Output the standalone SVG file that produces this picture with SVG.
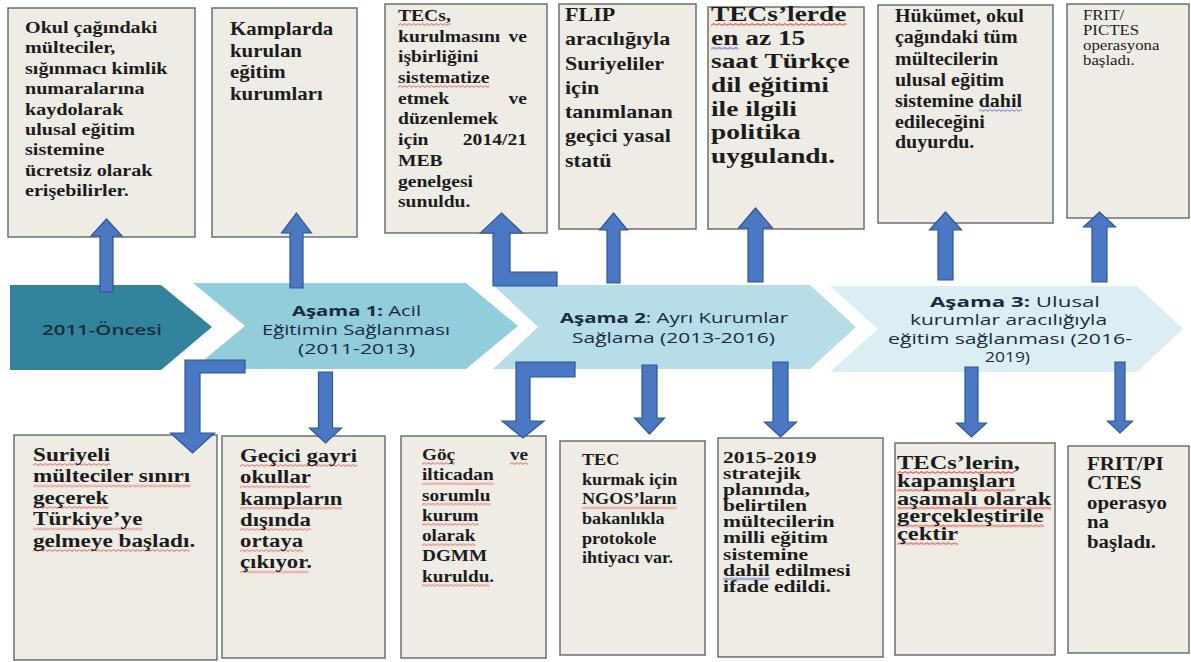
<svg xmlns="http://www.w3.org/2000/svg" width="1191" height="662" viewBox="0 0 1191 662">
<style>
.box rect.bx{fill:#eeece5;stroke:#666666;stroke-width:1.4}
.bt{font-family:"Liberation Serif","Times New Roman",serif;font-weight:bold;fill:#1c1c1c}
.nt{font-weight:normal}
.sq{fill:url(#wr)}
.bq{fill:url(#wb)}
.ct{font-family:"Open Sans","Liberation Sans",sans-serif;font-size:15px;fill:#1b2b3b}
.ct .b{font-weight:bold}
.arr{fill:#4a78c2;stroke:#2d5797;stroke-width:1.2;stroke-linejoin:miter}
</style>
<defs>
<pattern id="wr" width="4" height="3" patternUnits="userSpaceOnUse"><path d="M0,2.4 L2,0.6 L4,2.4" fill="none" stroke="#e03030" stroke-width="0.8" opacity="0.85"/></pattern>
<pattern id="wb" width="4" height="3" patternUnits="userSpaceOnUse"><path d="M0,2.4 L2,0.6 L4,2.4" fill="none" stroke="#3b4fd0" stroke-width="0.8" opacity="0.85"/></pattern>
</defs>
<rect width="1191" height="662" fill="#ffffff"/>

<!-- top boxes -->
<g id="box-t1" class="box">
<rect class="bx" x="8" y="8" width="187" height="229"/>
<g class="bt" font-size="17.5" transform="translate(25 0) scale(1.15 1)">
<text x="0" y="33">Okul çağındaki</text>
<text x="0" y="53.5">mülteciler,</text>
<text x="0" y="74">sığınmacı kimlik</text>
<text x="0" y="94.5">numaralarına</text>
<text x="0" y="115">kaydolarak</text>
<text x="0" y="135">ulusal eğitim</text>
<text x="0" y="155.5">sistemine</text>
<text x="0" y="176">ücretsiz olarak</text>
<text x="0" y="196.5">erişebilirler.</text>
</g>
</g>
<g id="box-t2" class="box">
<rect class="bx" x="212" y="8" width="145" height="229"/>
<g class="bt" font-size="18.5" transform="translate(230 0) scale(1.13 1)">
<text x="0" y="35">Kamplarda</text>
<text x="0" y="57">kurulan</text>
<text x="0" y="78.5">eğitim</text>
<text x="0" y="100">kurumları</text>
</g>
</g>
<g id="box-t3" class="box">
<rect class="bx" x="385" y="4" width="162" height="229"/>
<g class="bt" font-size="17.5" transform="translate(398 0) scale(1.12 1)">
<rect class="sq" transform="translate(0 23)" width="47" height="3"/>
<rect class="sq" transform="translate(0 85)" width="81.6" height="3"/>
<text x="0" y="21">TECs,</text>
<text x="0" y="41.7">kurulmasını</text><text x="115.2" y="41.7" text-anchor="end">ve</text>
<text x="0" y="62.4">işbirliğini</text>
<text x="0" y="83.1">sistematize</text>
<text x="0" y="103.8">etmek</text><text x="115.2" y="103.8" text-anchor="end">ve</text>
<text x="0" y="124.5">düzenlemek</text>
<text x="0" y="145.2">için</text><text x="115.2" y="145.2" text-anchor="end">2014/21</text>
<text x="0" y="165.9">MEB</text>
<text x="0" y="186.6">genelgesi</text>
<text x="0" y="207.3">sunuldu.</text>
</g>
</g>
<g id="box-t4" class="box">
<rect class="bx" x="559" y="4" width="137" height="225"/>
<g class="bt" font-size="19.5" transform="translate(565 0) scale(1.13 1)">
<text x="0" y="21">FLIP</text>
<text x="0" y="45.3">aracılığıyla</text>
<text x="0" y="69.6">Suriyeliler</text>
<text x="0" y="93.9">için</text>
<text x="0" y="118.2">tanımlanan</text>
<text x="0" y="142.5">geçici yasal</text>
<text x="0" y="166.8">statü</text>
</g>
</g>
<g id="box-t5" class="box">
<rect class="bx" x="708" y="7" width="156" height="222"/>
<g class="bt" font-size="20" transform="translate(711 0) scale(1.37 1)">
<rect class="sq" transform="translate(0 23)" width="98.9" height="3"/>
<rect class="bq" transform="translate(0 46.7)" width="20" height="3"/>
<text x="0" y="21">TECs’lerde</text>
<text x="0" y="44.7">en az 15</text>
<text x="0" y="68.4">saat Türkçe</text>
<text x="0" y="92">dil eğitimi</text>
<text x="0" y="115.8">ile ilgili</text>
<text x="0" y="139.5">politika</text>
<text x="0" y="163.2">uygulandı.</text>
</g>
</g>
<g id="box-t6" class="box">
<rect class="bx" x="878" y="5" width="175" height="218"/>
<g class="bt" font-size="18" transform="translate(895 0) scale(1.11 1)">
<rect class="bq" transform="translate(75.5 109)" width="39" height="3"/>
<text x="0" y="22">Hükümet, okul</text>
<text x="0" y="43">çağındaki tüm</text>
<text x="0" y="65">mültecilerin</text>
<text x="0" y="86.5">ulusal eğitim</text>
<text x="0" y="107">sistemine dahil</text>
<text x="0" y="128">edileceğini</text>
<text x="0" y="148.5">duyurdu.</text>
</g>
</g>
<g id="box-t7" class="box">
<rect class="bx" x="1067" y="4" width="122" height="214"/>
<g class="bt nt" font-size="14" transform="translate(1083 0) scale(1.2 1)">
<text x="0" y="20">FRIT/</text>
<text x="0" y="35">PICTES</text>
<text x="0" y="50">operasyona</text>
<text x="0" y="65">başladı.</text>
</g>
</g>

<!-- bottom boxes -->
<g id="box-b1" class="box">
<rect class="bx" x="14" y="435" width="203" height="225"/>
<g class="bt" font-size="19" transform="translate(33 0) scale(1.22 1)">
<rect class="sq" transform="translate(0 463)" width="63.3" height="3"/>
<rect class="sq" transform="translate(0 484.5)" width="129.2" height="3"/>
<rect class="sq" transform="translate(0 506)" width="62.2" height="3"/>
<rect class="sq" transform="translate(0 527.5)" width="89.7" height="3"/>
<rect class="sq" transform="translate(0 549)" width="128.3" height="3"/>
<text x="0" y="461">Suriyeli</text>
<text x="0" y="482.5">mülteciler sınırı</text>
<text x="0" y="504">geçerek</text>
<text x="0" y="525.5">Türkiye’ye</text>
<text x="0" y="547">gelmeye başladı.</text>
</g>
</g>
<g id="box-b2" class="box">
<rect class="bx" x="222" y="436" width="163" height="222"/>
<g class="bt" font-size="19" transform="translate(240 0) scale(1.2 1)">
<rect class="sq" transform="translate(0 464)" width="97.6" height="3"/>
<rect class="sq" transform="translate(0 485.3)" width="59.1" height="3"/>
<rect class="sq" transform="translate(0 506.6)" width="85.5" height="3"/>
<rect class="sq" transform="translate(0 527.9)" width="59.1" height="3"/>
<rect class="sq" transform="translate(0 549.2)" width="52.8" height="3"/>
<rect class="sq" transform="translate(0 570.5)" width="57" height="3"/>
<text x="0" y="462">Geçici gayri</text>
<text x="0" y="483.3">okullar</text>
<text x="0" y="504.6">kampların</text>
<text x="0" y="525.9">dışında</text>
<text x="0" y="547.2">ortaya</text>
<text x="0" y="568.5">çıkıyor.</text>
</g>
</g>
<g id="box-b3" class="box">
<rect class="bx" x="401" y="436" width="145" height="222"/>
<g class="bt" font-size="17.5" transform="translate(422 0) scale(1.1 1)">
<rect class="sq" transform="translate(0 462)" width="30.1" height="3"/>
<rect class="sq" transform="translate(79.9 462)" width="16.5" height="3"/>
<rect class="sq" transform="translate(0 482.3)" width="65.2" height="3"/>
<rect class="sq" transform="translate(0 502.6)" width="62.2" height="3"/>
<rect class="sq" transform="translate(0 522.9)" width="51.5" height="3"/>
<rect class="sq" transform="translate(0 543.2)" width="48.6" height="3"/>
<rect class="sq" transform="translate(0 583.8)" width="61.3" height="3"/>
<text x="0" y="460">Göç</text><text x="96.4" y="460" text-anchor="end">ve</text>
<text x="0" y="480.3">ilticadan</text>
<text x="0" y="500.6">sorumlu</text>
<text x="0" y="520.9">kurum</text>
<text x="0" y="541.2">olarak</text>
<text x="0" y="561.5">DGMM</text>
<text x="0" y="581.8">kuruldu.</text>
</g>
</g>
<g id="box-b4" class="box">
<rect class="bx" x="560" y="441" width="145" height="214"/>
<g class="bt" font-size="16.5" transform="translate(582 0) scale(1.1 1)">
<rect class="sq" transform="translate(0 506.4)" width="86.2" height="3"/>
<text x="0" y="465">TEC</text>
<text x="0" y="484.7">kurmak için</text>
<text x="0" y="504.4">NGOS’ların</text>
<text x="0" y="524.1">bakanlıkla</text>
<text x="0" y="543.8">protokole</text>
<text x="0" y="563.5">ihtiyacı var.</text>
</g>
</g>
<g id="box-b5" class="box">
<rect class="bx" x="718" y="438" width="165" height="219"/>
<g class="bt" font-size="16" transform="translate(723 0) scale(1.35 1)">
<rect class="bq" transform="translate(0 577.5)" width="34.7" height="3"/>
<text x="0" y="463">2015-2019</text>
<text x="0" y="479.1">stratejik</text>
<text x="0" y="495.2">planında,</text>
<text x="0" y="511.3">belirtilen</text>
<text x="0" y="527.4">mültecilerin</text>
<text x="0" y="543.5">milli eğitim</text>
<text x="0" y="559.6">sistemine</text>
<text x="0" y="575.7">dahil edilmesi</text>
<text x="0" y="591.8">ifade edildi.</text>
</g>
</g>
<g id="box-b6" class="box">
<rect class="bx" x="895" y="443" width="160" height="212"/>
<g class="bt" font-size="18" transform="translate(897 0) scale(1.36 1)">
<rect class="sq" transform="translate(0 471)" width="86" height="3"/>
<rect class="sq" transform="translate(0 488.8)" width="87" height="3"/>
<rect class="sq" transform="translate(0 506.6)" width="113.5" height="3"/>
<rect class="sq" transform="translate(0 524.4)" width="108" height="3"/>
<rect class="sq" transform="translate(0 542.2)" width="45" height="3"/>
<text x="0" y="469">TECs’lerin,</text>
<text x="0" y="486.8">kapanışları</text>
<text x="0" y="504.6">aşamalı olarak</text>
<text x="0" y="522.4">gerçekleştirile</text>
<text x="0" y="540.2">çektir</text>
</g>
</g>
<g id="box-b7" class="box">
<rect class="bx" x="1068" y="446" width="121" height="207"/>
<g class="bt" font-size="18" transform="translate(1087 0) scale(1.16 1)">
<text x="0" y="470">FRIT/PI</text>
<text x="0" y="489.5">CTES</text>
<text x="0" y="509">operasyo</text>
<text x="0" y="528.5">na</text>
<text x="0" y="548">başladı.</text>
</g>
</g>

<!-- timeline chevrons -->
<g id="phase-0">
<polygon points="10,285 161,285 212,327 161,370 10,370" fill="#31849b"/>
<text class="ct" x="42" y="335" textLength="120" lengthAdjust="spacingAndGlyphs" font-size="16" font-weight="600" fill="#1a3040">2011-Öncesi</text>
</g>
<g id="phase-1">
<polygon points="193,283 466,283 518,326 466,369 193,369 245,326" fill="#92cddc"/>
<text class="ct" x="292" y="316" textLength="129" lengthAdjust="spacingAndGlyphs"><tspan class="b">Aşama 1:</tspan> Acil</text>
<text class="ct" x="262" y="335" textLength="188" lengthAdjust="spacingAndGlyphs">Eğitimin Sağlanması</text>
<text class="ct" x="298" y="354" textLength="117" lengthAdjust="spacingAndGlyphs">(2011-2013)</text>
</g>
<g id="phase-2">
<polygon points="493,285 810,285 856,327 810,369 493,369 538,327" fill="#b6dde8"/>
<text class="ct" x="560" y="323" textLength="228" lengthAdjust="spacingAndGlyphs" font-size="16"><tspan class="b">Aşama 2</tspan>: Ayrı Kurumlar</text>
<text class="ct" x="572" y="343" textLength="203" lengthAdjust="spacingAndGlyphs" font-size="16">Sağlama (2013-2016)</text>
</g>
<g id="phase-3">
<polygon points="830,286 1137,286 1183,329 1137,372 830,372 878,329" fill="#dbeef3"/>
<text class="ct" x="930" y="307" textLength="170" lengthAdjust="spacingAndGlyphs"><tspan class="b">Aşama 3:</tspan> Ulusal</text>
<text class="ct" x="910" y="325" textLength="197" lengthAdjust="spacingAndGlyphs">kurumlar aracılığıyla</text>
<text class="ct" x="888" y="344" textLength="244" lengthAdjust="spacingAndGlyphs">eğitim sağlanması (2016-</text>
<text class="ct" x="985" y="362" textLength="45" lengthAdjust="spacingAndGlyphs">2019)</text>
</g>

<!-- connectors -->
<g id="connectors" class="arr">
<polygon points="106.5,219 122,236 113,236 113,292 100,292 100,236 91,236"/>
<polygon points="296.5,213 311.5,233 303,233 303,288 290,288 290,233 281.5,233"/>
<polygon points="501.5,213 522.5,233 510,233 510,272 557,272 557,286 493,286 493,233 480.5,233"/>
<polygon points="613.5,213 627.5,230 620,230 620,283 607,283 607,230 599.5,230"/>
<polygon points="755.5,208 772.5,228 763,228 763,282 748,282 748,228 738.5,228"/>
<polygon points="945.5,212 961.5,230 953,230 953,280 938,280 938,230 929.5,230"/>
<polygon points="1099.5,212 1115.5,227 1107,227 1107,282 1092,282 1092,227 1083.5,227"/>
<polygon points="245,360 245,373 200,373 200,433 214.5,433 192.5,453 170.5,433 185,433 185,360"/>
<polygon points="318.5,372 332.5,372 332.5,428 341.5,428 325.5,443 309.5,428 318.5,428"/>
<polygon points="516,362 575,362 575,377 530,377 530,421 544,421 523,438 502,421 516,421"/>
<polygon points="642,365 657,365 657,418 664.5,418 649.5,434 634.5,418 642,418"/>
<polygon points="773,362 788,362 788,422 796.5,422 780.5,437 764.5,422 773,422"/>
<polygon points="965,367 978,367 978,423 986.5,423 971.5,437 956.5,423 965,423"/>
<polygon points="1115,362 1125,362 1125,421 1132.5,421 1120,433 1107.5,421 1115,421"/>
</g>
</svg>
